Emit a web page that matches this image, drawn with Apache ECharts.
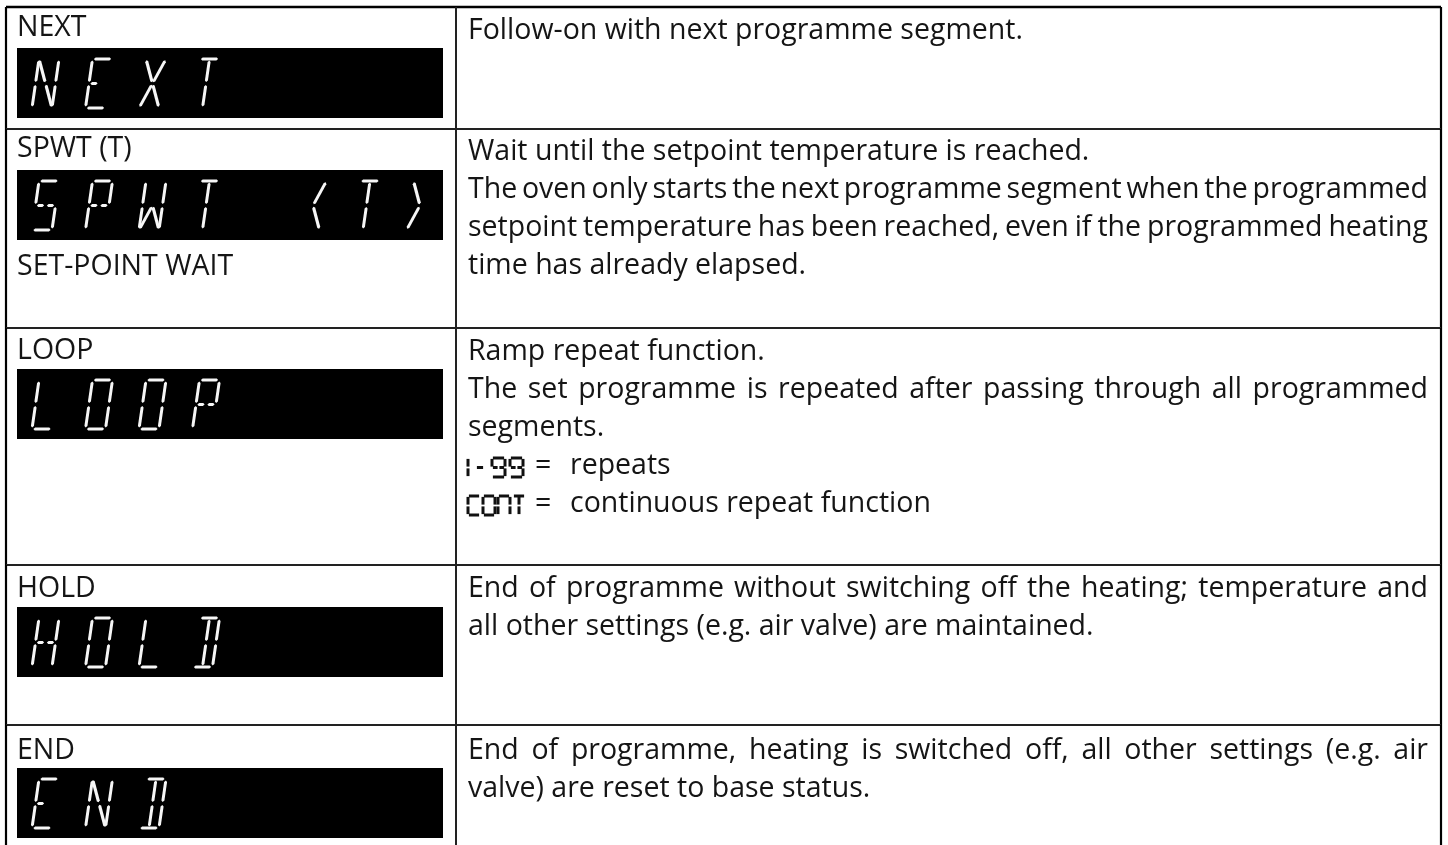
<!DOCTYPE html>
<html><head><meta charset="utf-8">
<script src="https://cdn.jsdelivr.net/npm/echarts@6/dist/echarts.min.js"></script>
<style>html,body{margin:0;padding:0;background:#fff}#c{width:1448px;height:845px}</style>
</head><body><div id="c"></div>
<script>
// ---------- data ----------
const labels = ['NEXT', 'SPWT (T)', 'LOOP', 'HOLD', 'END'];
const lcdTexts = ['NEXT', 'SPWT (T)', 'LOOP', 'HOLD', 'END'];
const subLabels = ['', 'SET-POINT WAIT', '', '', ''];
const descriptions = [
  [['Follow-on with next programme segment.']],
  [['Wait until the setpoint temperature is reached.'],
   ['The oven only starts the next programme segment when the programmed',
    'setpoint temperature has been reached, even if the programmed heating',
    'time has already elapsed.']],
  [['Ramp repeat function.'],
   ['The set programme is repeated after passing through all programmed',
    'segments.']],
  [['End of programme without switching off the heating; temperature and',
    'all other settings (e.g. air valve) are maintained.']],
  [['End of programme, heating is switched off, all other settings (e.g. air',
    'valve) are reset to base status.']]
];
const codeLines = [[], [], [['1-99', '=', 'repeats'], ['CONT', '=', 'continuous repeat function']], [], []];

// ---------- layout / style ----------
const FONT_FAMILY = '"Open Sans", "Noto Sans", sans-serif';
const FS = 28.5;
const FONT = FS + 'px ' + FONT_FAMILY;
const MID = 0.388 * FS; // baseline -> canvas 'middle' offset
const LAY = {
  xL: 6, xR: 1441, xC: 456, rowTops: [7, 129, 328, 565, 725], yEnd: 900,
  labelX: 17, labelBase: [32, 31, 34, 35, 37],
  boxX0: 17, boxX1: 443, boxTop: [41, 41, 41, 42, 43], boxH: 70,
  descX: 468, descR: 1428, descBase: [35, 34, 35, 35, 37], step: 38,
  subGap: 38, eqDx: 67, restDx: 102
};
const BIG = {w: 20, h: 49, s: 7, t: 3.0, g: 1.4, pitch: 53.5, x: 15, y: 11, color: '#f6f6f6',
  pointed: true, adv: {}, wid: {}, glyph: {}};
const SMALL = {w: 12, h: 19, s: 0, t: 3.0, g: 0.9, pitch: 15, color: '#111', pointed: false,
  adv: {'1': 8, '-': 16, '9': 18}, wid: {'-': 16, '9': 13}, glyph: {N: 'a b c e f', '-': 'g1'}};
const SEG = {
  a: [[0,0],[1,0]], b: [[1,0],[1,.5]], c: [[1,.5],[1,1]], d: [[0,1],[1,1]],
  e: [[0,.5],[0,1]], f: [[0,0],[0,.5]], g1: [[0,.5],[.5,.5]], g2: [[.5,.5],[1,.5]],
  h: [[0,0],[.5,.5]], i: [[.5,0],[.5,.5]], j: [[1,0],[.5,.5]],
  k: [[.5,.5],[0,1]], l: [[.5,.5],[.5,1]], m: [[.5,.5],[1,1]]
};
const GLYPH = {
  N: 'f e b c h m', E: 'a f e g1 d', X: 'h j k m', T: 'a i l', S: 'a f g1 g2 c d',
  P: 'a f b g1 g2 e', W: 'f e b c k m', '(': 'j m', ')': 'h k', L: 'f e d',
  O: 'a b c d e f', H: 'f e b c g1 g2', D: 'a b c d i l', '1': 'e f', '-': 'g1 g2',
  '9': 'a b c d f g1 g2', C: 'a f e d'
};

const mctx = document.createElement('canvas').getContext('2d');
mctx.font = FONT;
const tw = s => mctx.measureText(s).width;

function segPoly(x0, y0, st, w, seg) {
  const [p1, p2] = SEG[seg];
  const ax = p1[0] * w, ay = p1[1] * st.h, bx = p2[0] * w, by = p2[1] * st.h;
  const len = Math.hypot(bx - ax, by - ay);
  const dx = (bx - ax) / len, dy = (by - ay) / len, nx = -dy, ny = dx;
  const g = st.g, hf = st.t / 2;
  let raw;
  if (st.pointed) {
    raw = [
      [ax + dx * g, ay + dy * g],
      [ax + dx * (g + hf) + nx * hf, ay + dy * (g + hf) + ny * hf],
      [bx - dx * (g + hf) + nx * hf, by - dy * (g + hf) + ny * hf],
      [bx - dx * g, by - dy * g],
      [bx - dx * (g + hf) - nx * hf, by - dy * (g + hf) - ny * hf],
      [ax + dx * (g + hf) - nx * hf, ay + dy * (g + hf) - ny * hf]
    ];
  } else {
    raw = [
      [ax + dx * g + nx * hf, ay + dy * g + ny * hf],
      [bx - dx * g + nx * hf, by - dy * g + ny * hf],
      [bx - dx * g - nx * hf, by - dy * g - ny * hf],
      [ax + dx * g - nx * hf, ay + dy * g - ny * hf]
    ];
  }
  return raw.map(([u, v]) => [x0 + u + st.s * (1 - v / st.h), y0 + v]);
}

function lcdString(api, str, x, y, st, out) {
  let cx = x;
  for (const ch of str) {
    const segs = st.glyph[ch] || GLYPH[ch];
    const w = st.wid[ch] !== undefined ? st.wid[ch] : st.w;
    if (segs) {
      segs.split(' ').forEach(sg => {
        const pts = segPoly(cx, y, st, w, sg).map(p => api.coord(p));
        out.push({type: 'polygon', shape: {points: pts}, style: {fill: st.color}});
      });
    }
    cx += st.adv[ch] !== undefined ? st.adv[ch] : st.pitch;
  }
}

function txt(api, s, x, base) {
  const p = api.coord([x, base - MID]);
  return {type: 'text', style: {text: s, x: p[0], y: p[1], font: FONT,
    fill: '#151515', align: 'left', verticalAlign: 'middle'}};
}

function line(api, x1, y1, x2, y2, color, w) {
  const a = api.coord([x1, y1]), b = api.coord([x2, y2]);
  return {type: 'line', shape: {x1: a[0], y1: a[1], x2: b[0], y2: b[1]},
    style: {stroke: color, lineWidth: w}};
}

function renderRow(params, api) {
  const i = api.value(2);
  const top = LAY.rowTops[i];
  const bot = i < LAY.rowTops.length - 1 ? LAY.rowTops[i + 1] : LAY.yEnd;
  const ch = [];
  // LCD box
  const bt = top + LAY.boxTop[i];
  const b0 = api.coord([LAY.boxX0, bt]), b1 = api.coord([LAY.boxX1, bt + LAY.boxH]);
  ch.push({type: 'rect', shape: {x: b0[0], y: b0[1], width: b1[0] - b0[0], height: b1[1] - b0[1]},
    style: {fill: '#000'}});
  lcdString(api, lcdTexts[i], LAY.boxX0 + BIG.x, bt + BIG.y, BIG, ch);
  // label
  ch.push(txt(api, labels[i], LAY.labelX, top + LAY.labelBase[i]));
  if (subLabels[i]) ch.push(txt(api, subLabels[i], LAY.labelX, bt + LAY.boxH + LAY.subGap));
  // description
  let base = top + LAY.descBase[i];
  descriptions[i].forEach(par => {
    par.forEach((ln, k) => {
      const justify = k < par.length - 1;
      if (!justify) {
        ch.push(txt(api, ln, LAY.descX, base));
      } else {
        const words = ln.split(' ');
        const widths = words.map(tw);
        const total = widths.reduce((a, b) => a + b, 0);
        const gap = (LAY.descR - LAY.descX - total) / (words.length - 1);
        let x = LAY.descX;
        words.forEach((wd, q) => { ch.push(txt(api, wd, x, base)); x += widths[q] + gap; });
      }
      base += LAY.step;
    });
  });
  codeLines[i].forEach(([code, eq, rest]) => {
    lcdString(api, code, LAY.descX, base - SMALL.h, SMALL, ch);
    ch.push(txt(api, eq, LAY.descX + LAY.eqDx, base));
    ch.push(txt(api, rest, LAY.descX + LAY.restDx, base));
    base += LAY.step;
  });
  // borders
  ch.push(line(api, LAY.xL, top, LAY.xR, top, i === 0 ? '#000' : '#222', i === 0 ? 2.5 : 2));
  ch.push(line(api, LAY.xC, top, LAY.xC, bot, '#222', 2));
  ch.push(line(api, LAY.xL, top, LAY.xL, bot, '#000', 2.2));
  ch.push(line(api, LAY.xR, top, LAY.xR, bot, '#000', 2.2));
  return {type: 'group', children: ch};
}

const chart = echarts.init(document.getElementById('c'), null, {renderer: 'canvas'});
chart.setOption({
  backgroundColor: '#fff',
  animation: false,
  grid: {left: 0, right: 0, top: 0, bottom: 0},
  xAxis: {type: 'value', min: 0, max: 1448, show: false},
  yAxis: {type: 'value', min: 0, max: 845, inverse: true, show: false},
  series: [{
    type: 'custom', coordinateSystem: 'cartesian2d', silent: true, clip: false,
    encode: {x: 0, y: 1},
    data: labels.map((_, i) => [0, 0, i]),
    renderItem: renderRow
  }]
});
</script></body></html>
